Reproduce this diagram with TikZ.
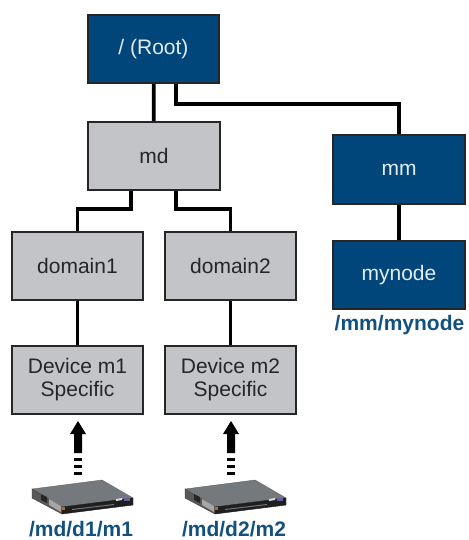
\documentclass[tikz,border=0pt]{standalone}
\usepackage{fontspec}
\setmainfont{Liberation Sans}
\definecolor{navy}{HTML}{00467A}
\definecolor{boxgrey}{HTML}{C3C4C8}
\definecolor{pathblue}{HTML}{11507F}
\definecolor{devgrey}{HTML}{74797E}
\definecolor{paletext}{HTML}{E4ECF2}
\tikzset{
  x=1pt,y=-1pt,
  boxbase/.style={draw=black!85,line width=1.8pt,minimum width=131.5pt,minimum height=68.5pt,inner sep=0pt,align=center,font=\fontsize{21}{23}\selectfont},
  darkbox/.style={boxbase,fill=navy,text=paletext},
  greybox/.style={boxbase,fill=boxgrey,text=black!85},
  link/.style={line width=3.8pt,black,line join=miter},
  pathlabel/.style={text=pathblue,font=\fontsize{21}{23}\selectfont\bfseries,inner sep=0pt},
  devtop/.style={fill=devgrey,draw=black!60,line width=.4pt},
  devfront/.style={fill=black!88,draw=black!90,line width=.4pt},
  devside/.style={fill=black!65,draw=black!75,line width=.4pt}
}
\newcommand{\appliance}[1]{%
  \begin{scope}[shift={(#1,0)}]
    \fill[devtop] (32,489) -- (102,480) -- (133,498) -- (62,507) -- cycle;
    \fill[devside] (32,489) -- (62,507) -- (62,514) -- (32,498) -- cycle;
    \fill[devfront] (62,507) -- (133,498) -- (133,505) -- (62,514) -- cycle;
    \fill[black!85] (41,494) -- (47,497) -- (47,503) -- (41,500) -- cycle;
    \fill[black!35] (49,499) -- (61,506) -- (61,512) -- (49,505) -- cycle;
    \fill[orange!80!black] (62,506.5) rectangle (65,509.5);
    \fill[black!55] (72,509) -- (114,504) -- (114,505) -- (72,510) -- cycle;
    \fill[white!85!black] (116,499) -- (122,498) -- (122,500) -- (116,501) -- cycle;
    \fill[blue!25!gray] (124,497.5) rectangle (130,501);
  \end{scope}}
\newcommand{\uparrowdash}[1]{%
  \begin{scope}[shift={(#1,0)}]
    \fill[black] (78,421) -- (86,434) -- (82,434) -- (82,453) -- (74,453) -- (74,434) -- (70,434) -- cycle;
    \fill[black] (74,458) rectangle (82,461);
    \fill[black] (74,465) rectangle (82,468);
    \fill[black] (74,472) rectangle (82,475);
  \end{scope}}
\begin{document}
\begin{tikzpicture}
\useasboundingbox (0,0) rectangle (468,540);
\node[darkbox,text height=15pt,text depth=4pt] (root) at (153.5,49) {/ (Root)};
\node[greybox] (md) at (154,156) {md};
\node[darkbox] (mm) at (399,169.5) {mm};
\node[darkbox] (mynode) at (399,275) {mynode};
\node[greybox] (d1) at (77.5,266) {domain1};
\node[greybox] (d2) at (230.5,266) {domain2};
\node[greybox] (m1) at (77.5,380) {Device m1\\Specific};
\node[greybox] (m2) at (230.5,380) {Device m2\\Specific};
\node[pathlabel] (lblmy) at (399.5,325) {/mm/mynode};
\node[pathlabel] (lbl1) at (81,529) {/md/d1/m1};
\node[pathlabel] (lbl2) at (234,529) {/md/d2/m2};
\coordinate (rootr) at (176,84);
\coordinate (mdl) at (131,191);
\coordinate (mdr) at (176,191);
\draw[link] (root) -- (md);
\draw[link] (rootr) |- (399,104) -- (mm.north);
\draw[link] (mdl) |- (77.5,209) -- (d1.north);
\draw[link] (mdr) |- (230.5,209) -- (d2.north);
\draw[link] (mm) -- (mynode);
\draw[link] (d1) -- (m1);
\draw[link] (d2) -- (m2);
\uparrowdash{0}
\uparrowdash{153}
\appliance{0}
\appliance{153}
\end{tikzpicture}
\end{document}
